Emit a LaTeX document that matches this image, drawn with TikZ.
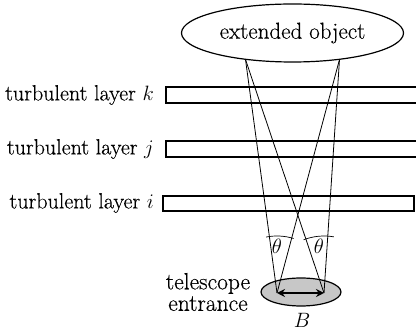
\documentclass[tikz,border=0pt]{standalone}
\usepackage{fontspec}
\setmainfont{Latin Modern Roman}[FakeBold=0.35]
\usetikzlibrary{shapes.geometric,arrows.meta}
\begin{document}
\begin{tikzpicture}[x=1pt,y=-1pt,
  lbl/.style={font=\fontsize{22}{24}\selectfont, inner sep=0pt},
  layer/.style={draw, line width=1.2pt},
  ray/.style={line width=0.8pt},
  ang/.style={line width=0.7pt}]
\useasboundingbox (0,0) rectangle (416,336);
\node[ellipse, draw, line width=1.2pt, minimum width=222pt, minimum height=58pt, inner sep=0pt, font=\fontsize{23}{24}\selectfont] (obj) at (292.5,33) {extended object};
\draw[layer] (166,87) rectangle (416.5,103);
\draw[layer] (166,141) rectangle (416.5,157);
\draw[layer] (163,196) rectangle (414,211);
\node[lbl, anchor=east] (lk) at (154,95) {turbulent layer $k$};
\node[lbl, anchor=east] (lj) at (154,149) {turbulent layer $j$};
\node[lbl, anchor=east] (li) at (154,203) {turbulent layer $i$};
\node[ellipse, draw, line width=1.2pt, fill=black!22, minimum width=80pt, minimum height=28pt] (tel) at (301,292) {};
\coordinate (L) at (245.5,59.5);
\coordinate (R) at (339.5,59.5);
\coordinate (A) at (277,293);
\coordinate (Bp) at (324,293);
\draw[ray] (L) -- (A);
\draw[ray] (L) -- (Bp);
\draw[ray] (R) -- (A);
\draw[ray] (R) -- (Bp);
\draw[line width=1.8pt, {Stealth[length=8pt,width=8pt]}-{Stealth[length=8pt,width=8pt]}] (A) -- (Bp);
\draw[ang] (A) ++(-73:57) arc (-73:-101:57);
\draw[ang] (Bp) ++(-80:57) arc (-80:-111:57);
\node[lbl] (t1) at (277,246) {$\theta$};
\node[lbl] (t2) at (319,246) {$\theta$};
\node[lbl, align=center, font=\fontsize{23.5}{21.5}\selectfont] (te) at (208,292) {telescope\\entrance};
\node[lbl] (b) at (302,320) {$B$};
\end{tikzpicture}
\end{document}
